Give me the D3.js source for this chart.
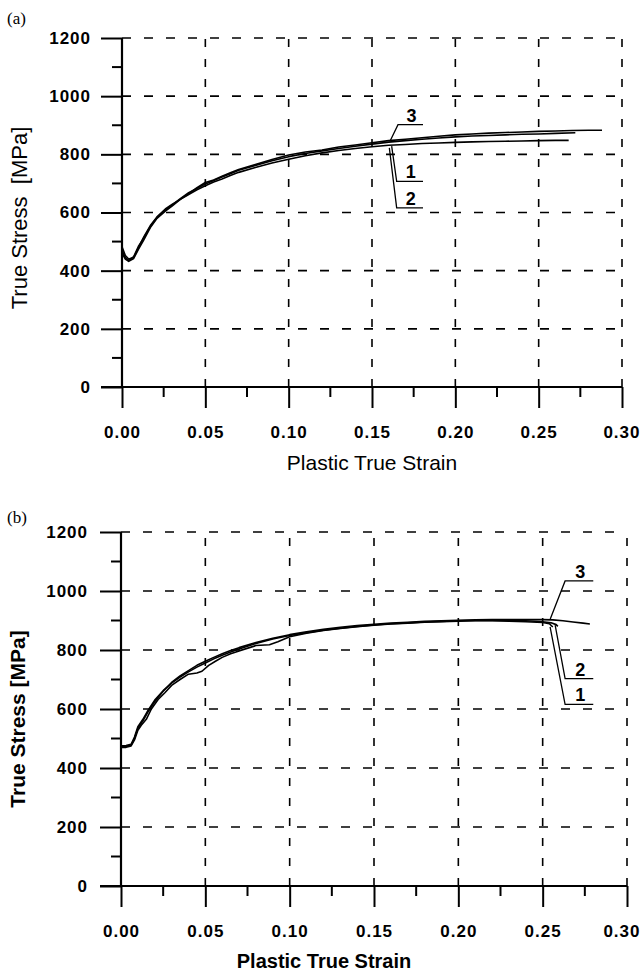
<!DOCTYPE html>
<html>
<head>
<meta charset="utf-8">
<script src="https://cdn.jsdelivr.net/npm/d3@7"></script>
<style>
  html, body { margin: 0; padding: 0; background: #fff; }
  svg { display: block; }
</style>
</head>
<body>
<svg id="chart" width="641" height="974"></svg>
<script>
// ---------- DATA ----------
const strainTicks = [0, 0.05, 0.10, 0.15, 0.20, 0.25, 0.30];
const stressTicks = [0, 200, 400, 600, 800, 1000, 1200];
const strainMinor = [0.025, 0.075, 0.125, 0.175, 0.225, 0.275];
const stressMinor = [100, 300, 500, 700, 900, 1100];

// Panel (a): [plastic true strain, true stress MPa]
const a_curve1 = [[0,470],[0.002,445],[0.004,435],[0.007,448],[0.010,485],[0.013,512],[0.017,552],[0.021,583],[0.026,608],[0.030,625],[0.035,648],[0.040,668],[0.045,683],[0.050,698],[0.055,710],[0.060,722],[0.065,733],[0.070,745],[0.080,762],[0.090,778],[0.100,792],[0.110,803],[0.120,812],[0.130,820],[0.140,828],[0.150,835],[0.160,842],[0.170,847],[0.180,852],[0.190,856],[0.200,860],[0.210,863],[0.220,865],[0.230,867],[0.240,869],[0.250,870],[0.260,872],[0.272,874]];
const a_curve2 = [[0,460],[0.002,440],[0.004,432],[0.007,442],[0.010,475],[0.013,505],[0.017,548],[0.021,580],[0.026,605],[0.030,622],[0.035,645],[0.040,662],[0.045,678],[0.050,692],[0.055,705],[0.060,715],[0.065,727],[0.070,738],[0.080,755],[0.090,770],[0.100,783],[0.110,795],[0.120,805],[0.130,813],[0.140,820],[0.150,826],[0.160,831],[0.170,834],[0.180,837],[0.190,839],[0.200,841],[0.210,843],[0.220,844],[0.230,845],[0.240,846],[0.250,847],[0.260,848],[0.268,848]];
const a_curve3 = [[0,482],[0.002,452],[0.004,440],[0.007,445],[0.010,480],[0.013,515],[0.017,555],[0.021,585],[0.026,612],[0.030,628],[0.035,645],[0.040,665],[0.045,685],[0.050,703],[0.055,712],[0.060,725],[0.065,737],[0.070,748],[0.080,765],[0.090,782],[0.100,798],[0.110,808],[0.120,815],[0.130,825],[0.140,832],[0.150,840],[0.160,847],[0.170,852],[0.180,857],[0.190,862],[0.200,867],[0.210,870],[0.220,873],[0.230,875],[0.240,877],[0.250,879],[0.260,880],[0.270,882],[0.280,883],[0.288,883]];

// Panel (b)
const b_curve1 = [[0,470],[0.003,470],[0.006,475],[0.008,495],[0.010,528],[0.012,545],[0.015,565],[0.018,600],[0.022,632],[0.026,655],[0.030,680],[0.035,700],[0.040,718],[0.045,722],[0.048,728],[0.052,748],[0.056,762],[0.060,775],[0.065,787],[0.070,797],[0.080,815],[0.088,818],[0.093,828],[0.100,845],[0.110,857],[0.120,866],[0.130,873],[0.140,879],[0.150,884],[0.160,888],[0.170,891],[0.180,894],[0.190,896],[0.200,898],[0.210,899],[0.220,899],[0.230,898],[0.240,896],[0.250,893],[0.254,889],[0.256,878]];
const b_curve2 = [[0,475],[0.003,476],[0.006,480],[0.008,505],[0.010,540],[0.013,565],[0.016,595],[0.020,630],[0.025,662],[0.030,688],[0.035,708],[0.040,726],[0.045,742],[0.050,756],[0.055,770],[0.060,782],[0.065,793],[0.070,803],[0.080,822],[0.090,837],[0.100,849],[0.110,859],[0.120,867],[0.130,874],[0.140,880],[0.150,885],[0.160,889],[0.170,892],[0.180,895],[0.190,897],[0.200,899],[0.210,900],[0.220,901],[0.230,900],[0.240,899],[0.250,896],[0.255,892],[0.258,886],[0.259,880]];
const b_curve3 = [[0,472],[0.003,473],[0.006,478],[0.008,500],[0.010,535],[0.013,560],[0.016,590],[0.020,625],[0.025,660],[0.030,690],[0.035,712],[0.040,730],[0.045,748],[0.050,762],[0.055,775],[0.060,787],[0.065,798],[0.070,808],[0.080,825],[0.090,840],[0.100,852],[0.110,862],[0.120,870],[0.130,877],[0.140,883],[0.150,887],[0.160,891],[0.170,894],[0.180,897],[0.190,899],[0.200,901],[0.210,902],[0.220,903],[0.230,903],[0.240,903],[0.250,903],[0.256,902],[0.262,899],[0.268,895],[0.274,891],[0.278,888]];

// Curve labels with leader lines (data units): tip on curve, elbow, end of underline
const a_labels = [
  {label: "3", tip: [0.1608, 845], elbow: [0.1656, 902], end: 0.1806},
  {label: "1", tip: [0.1618, 828], elbow: [0.1648, 707], end: 0.1806},
  {label: "2", tip: [0.1604, 822], elbow: [0.1648, 616], end: 0.1806}
];
const b_labels = [
  {label: "3", tip: [0.2545, 905], elbow: [0.2633, 1034], end: 0.2800},
  {label: "2", tip: [0.2574, 884], elbow: [0.2633, 703], end: 0.2800},
  {label: "1", tip: [0.2544, 878], elbow: [0.2633, 616], end: 0.2800}
];

const xTitle = "Plastic True Strain";
const yTitleA = "True Stress  [MPa]";
const yTitleB = "True Stress [MPa]";

// ---------- DRAW ----------
const svg = d3.select("#chart");
const SANS = "'Liberation Sans', Arial, sans-serif";
const W = 641;

function panel(cfg) {
  const x = d3.scaleLinear().domain([0, 0.30]).range([cfg.x0, cfg.x1]);
  const y = d3.scaleLinear().domain([0, 1200]).range([cfg.y0, cfg.y1]);
  const g = svg.append("g");

  // grid
  g.selectAll(".hg").data(stressTicks.filter(d => d > 0)).join("line")
    .attr("x1", x(0)).attr("x2", x(0.30))
    .attr("y1", d => y(d)).attr("y2", d => y(d))
    .attr("stroke", "#000").attr("stroke-width", 1.6).attr("stroke-dasharray", "9,13");
  g.selectAll(".vg").data(strainTicks.filter(d => d > 0)).join("line")
    .attr("x1", d => x(d)).attr("x2", d => x(d))
    .attr("y1", y(0)).attr("y2", y(1200))
    .attr("stroke", "#000").attr("stroke-width", 1.6).attr("stroke-dasharray", "8,12");

  // y axis
  const yAxis = d3.axisLeft(y).tickValues(stressTicks).tickSize(21).tickPadding(11).tickFormat(d3.format("d"));
  const ya = g.append("g").attr("transform", `translate(${x(0)},0)`).call(yAxis);
  ya.select(".domain").attr("d", `M0,${y(0)}V${y(1200)}`).attr("stroke-width", 2.2);
  ya.selectAll(".tick line").attr("stroke-width", 2);
  ya.selectAll(".tick text").attr("font-family", SANS).attr("font-weight", "bold")
    .attr("font-size", 17).attr("letter-spacing", 1).attr("fill", "#000").attr("dx", cfg.ylabDx);
  g.selectAll(".ym").data(stressMinor).join("line")
    .attr("x1", x(0) - 10).attr("x2", x(0))
    .attr("y1", d => y(d)).attr("y2", d => y(d))
    .attr("stroke", "#000").attr("stroke-width", 2);

  // x axis
  const xAxis = d3.axisBottom(x).tickValues(strainTicks).tickSize(21).tickPadding(18).tickFormat(d3.format(".2f"));
  const xa = g.append("g").attr("transform", `translate(0,${y(0)})`).call(xAxis);
  xa.select(".domain").attr("d", `M${x(0) - 21},0H${x(0.30)}`).attr("stroke-width", 2.2);
  xa.selectAll(".tick line").attr("stroke-width", 2);
  xa.selectAll(".tick text").attr("font-family", SANS).attr("font-weight", "bold")
    .attr("font-size", 17).attr("letter-spacing", 1).attr("fill", "#000");
  // keep the last label inside the page
  xa.selectAll(".tick text").each(function(d) {
    const bb = this.getBBox();
    const tx = x(d);
    const right = tx + bb.x + bb.width;
    if (right > W - 1) d3.select(this).attr("dx", (W - 1) - right);
  });
  g.selectAll(".xm").data(strainMinor).join("line")
    .attr("x1", d => x(d)).attr("x2", d => x(d))
    .attr("y1", y(0)).attr("y2", y(0) + 10)
    .attr("stroke", "#000").attr("stroke-width", 2);

  // curves
  const line = d3.line().x(d => x(d[0])).y(d => y(d[1])).curve(d3.curveLinear);
  g.selectAll(".curve").data(cfg.curves).join("path")
    .attr("d", d => line(d))
    .attr("fill", "none").attr("stroke", "#000").attr("stroke-width", 1.6)
    .attr("stroke-linejoin", "round");

  // leader labels
  cfg.labels.forEach(l => {
    g.append("polyline")
      .attr("points", [[x(l.tip[0]), y(l.tip[1])], [x(l.elbow[0]), y(l.elbow[1])], [x(l.end), y(l.elbow[1])]].map(p => p.join(",")).join(" "))
      .attr("fill", "none").attr("stroke", "#000").attr("stroke-width", 1.3);
    g.append("text")
      .attr("x", (x(l.elbow[0]) + x(l.end)) / 2 + 1)
      .attr("y", y(l.elbow[1]) - 3)
      .attr("text-anchor", "middle")
      .attr("font-family", SANS).attr("font-weight", "bold").attr("font-size", 18)
      .text(l.label);
  });

  // titles
  g.append("text")
    .attr("x", cfg.xtX).attr("y", cfg.xtY)
    .attr("text-anchor", "middle")
    .attr("font-family", SANS).attr("font-size", cfg.xtSize).attr("font-weight", cfg.titleWeight)
    .text(xTitle);
  g.append("text")
    .attr("transform", `translate(${cfg.ytX},${cfg.ytY}) rotate(-90)`)
    .attr("text-anchor", "middle")
    .attr("font-family", SANS).attr("font-size", cfg.ytSize).attr("font-weight", cfg.titleWeight)
    .style("white-space", "pre")
    .text(cfg.yTitle);
  g.append("text")
    .attr("x", 7).attr("y", cfg.tagY)
    .attr("font-family", "'Liberation Serif', 'Times New Roman', serif").attr("font-size", 17)
    .text(cfg.tag);
}

panel({
  x0: 122, x1: 622, y0: 387, y1: 38,
  curves: [a_curve1, a_curve2, a_curve3], labels: a_labels,
  ylabDx: 1, xtX: 372, xtY: 470, xtSize: 21, ytX: 27, ytY: 218, ytSize: 22,
  yTitle: yTitleA, titleWeight: "normal", tag: "(a)", tagY: 24
});
panel({
  x0: 121, x1: 627, y0: 886, y1: 532,
  curves: [b_curve1, b_curve2, b_curve3], labels: b_labels,
  ylabDx: -1, xtX: 324, xtY: 968, xtSize: 20, ytX: 25, ytY: 719, ytSize: 21,
  yTitle: yTitleB, titleWeight: "bold", tag: "(b)", tagY: 523
});
</script>
</body>
</html>
